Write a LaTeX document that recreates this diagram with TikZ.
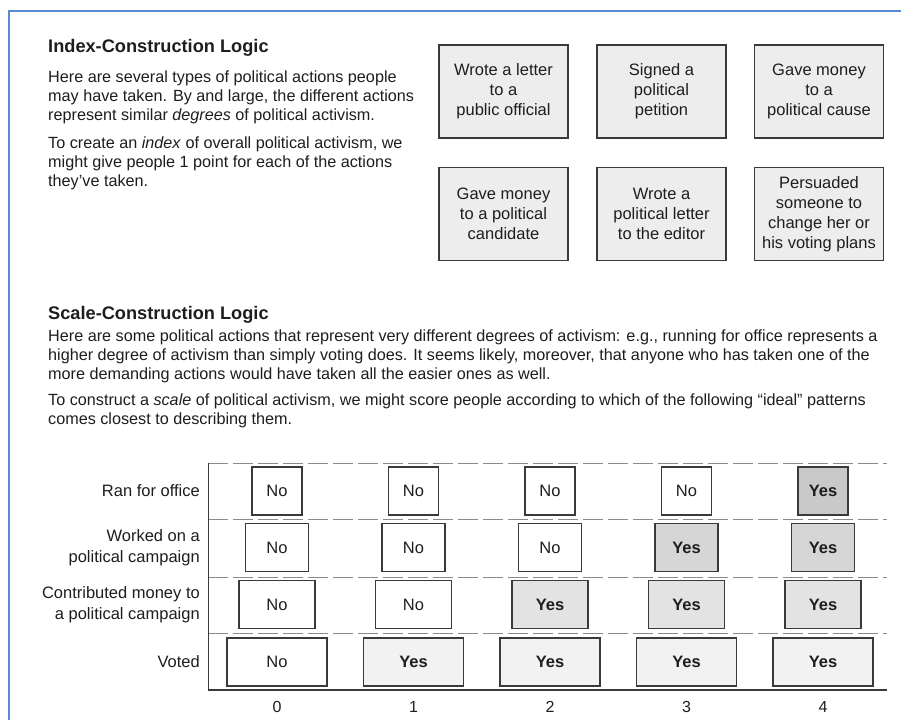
\documentclass[tikz,border=0pt]{standalone}
\usepackage{fontspec}
\setmainfont{Liberation Sans}
\definecolor{ink}{HTML}{1E1E1E}
\definecolor{frameblue}{HTML}{5B8AD4}
\definecolor{boxline}{HTML}{3A3A3A}
\definecolor{cardfill}{HTML}{EDEDED}
\definecolor{yesA}{HTML}{C9C9C9}
\definecolor{yesB}{HTML}{D6D6D6}
\definecolor{yesC}{HTML}{E3E3E3}
\definecolor{yesD}{HTML}{F2F2F2}
\definecolor{rule}{HTML}{8A8A8A}
\begin{document}
\begin{tikzpicture}[x=1pt,y=-1pt,
  heading/.style={anchor=base west, inner sep=0pt, text=ink,
    font=\fontsize{18.2}{21}\selectfont\bfseries},
  bodyline/.style={anchor=base west, inner sep=0pt, text=ink,
    font=\fontsize{16.2}{19}\selectfont},
  card/.style={draw=boxline, line width=1.1pt, fill=cardfill, text=ink,
    minimum width=129pt, minimum height=93pt, align=center, inner sep=2pt,
    font=\fontsize{16.5}{20}\selectfont},
  rowlabel/.style={anchor=east, align=right, inner sep=0pt, text=ink,
    font=\fontsize{16.5}{21}\selectfont},
  cell/.style={draw=boxline, line width=1.1pt, minimum height=48pt,
    inner sep=0pt, text=ink, font=\fontsize{16.5}{19}\selectfont},
  no/.style={cell, fill=white, minimum width=#1},
  yes/.style 2 args={cell, fill=#2, minimum width=#1,
    font=\fontsize{16.5}{19}\selectfont\bfseries},
  score/.style={anchor=base, inner sep=0pt, text=ink,
    font=\fontsize{16}{18}\selectfont},
  dashrule/.style={rule, line width=0.8pt, dash pattern=on 20pt off 5pt},
]
\useasboundingbox (0,0) rectangle (901,720);
\fill[white] (0,0) rectangle (901,720);

% page frame
\draw[frameblue, line width=2pt] (9,720) -- (9,10.5) -- (901,10.5);

% ---------- index section ----------
\node[heading] (ixtitle) at (48,52) {Index-Construction Logic};
\node[bodyline] (ix1) at (48,82)  {Here are several types of political actions people};
\node[bodyline] (ix2) at (48,101) {may have taken. By and large, the different actions};
\node[bodyline] (ix3) at (48,120) {represent similar \textit{degrees} of political activism.};
\node[bodyline] (ix4) at (48,148) {To create an \textit{index} of overall political activism, we};
\node[bodyline] (ix5) at (48,167) {might give people 1 point for each of the actions};
\node[bodyline] (ix6) at (48,186) {they’ve taken.};

\node[card] (act1) at (503.5,91.5) {Wrote a letter\\to a\\public official};
\node[card] (act2) at (661.5,91.5) {Signed a\\political\\petition};
\node[card] (act3) at (819,91.5)   {Gave money\\to a\\political cause};
\node[card] (act4) at (503.5,214)  {Gave money\\to a political\\candidate};
\node[card] (act5) at (661.5,214)  {Wrote a\\political letter\\to the editor};
\node[card] (act6) at (819,214)    {Persuaded\\someone to\\change her or\\his voting plans};

% ---------- scale section ----------
\node[heading] (sctitle) at (48,319) {Scale-Construction Logic};
\node[bodyline] (sc1) at (48,341) {Here are some political actions that represent very different degrees of activism: e.g., running for office represents a};
\node[bodyline] (sc2) at (48,360) {higher degree of activism than simply voting does. It seems likely, moreover, that anyone who has taken one of the};
\node[bodyline] (sc3) at (48,379) {more demanding actions would have taken all the easier ones as well.};
\node[bodyline] (sc4) at (48,405) {To construct a \textit{scale} of political activism, we might score people according to which of the following “ideal” patterns};
\node[bodyline] (sc5) at (48,424) {comes closest to describing them.};

% table rules
\draw[dashrule] (208,463) -- (887,463);
\draw[dashrule] (208,519) -- (887,519);
\draw[dashrule] (208,577) -- (887,577);
\draw[dashrule] (208,633) -- (887,633);
\draw[boxline, line width=1pt] (208,463) -- (208,690);
\draw[boxline, line width=1.5pt] (208,690) -- (887,690);

% row labels
\node[rowlabel] (lab1) at (200,491)   {Ran for office};
\node[rowlabel] (lab2) at (200,547.5) {Worked on a\\political campaign};
\node[rowlabel] (lab3) at (200,604.5) {Contributed money to\\a political campaign};
\node[rowlabel] (lab4) at (200,662)   {Voted};

% pattern 0
\node[no=50pt]  (p0r1) at (277,491)   {No};
\node[no=63pt]  (p0r2) at (277,547.5) {No};
\node[no=76pt]  (p0r3) at (277,604.5) {No};
\node[no=100pt] (p0r4) at (277,662)   {No};
% pattern 1
\node[no=50pt]  (p1r1) at (413.5,491)   {No};
\node[no=63pt]  (p1r2) at (413.5,547.5) {No};
\node[no=76pt]  (p1r3) at (413.5,604.5) {No};
\node[yes={100pt}{yesD}] (p1r4) at (413.5,662) {Yes};
% pattern 2
\node[no=50pt]  (p2r1) at (550,491)   {No};
\node[no=63pt]  (p2r2) at (550,547.5) {No};
\node[yes={76pt}{yesC}]  (p2r3) at (550,604.5) {Yes};
\node[yes={100pt}{yesD}] (p2r4) at (550,662)   {Yes};
% pattern 3
\node[no=50pt]  (p3r1) at (686.5,491)   {No};
\node[yes={63pt}{yesB}]  (p3r2) at (686.5,547.5) {Yes};
\node[yes={76pt}{yesC}]  (p3r3) at (686.5,604.5) {Yes};
\node[yes={100pt}{yesD}] (p3r4) at (686.5,662)   {Yes};
% pattern 4
\node[yes={50pt}{yesA}]  (p4r1) at (823,491)   {Yes};
\node[yes={63pt}{yesB}]  (p4r2) at (823,547.5) {Yes};
\node[yes={76pt}{yesC}]  (p4r3) at (823,604.5) {Yes};
\node[yes={100pt}{yesD}] (p4r4) at (823,662)   {Yes};

% scores
\node[score] (s0) at (277,712)   {0};
\node[score] (s1) at (413.5,712) {1};
\node[score] (s2) at (550,712)   {2};
\node[score] (s3) at (686.5,712) {3};
\node[score] (s4) at (823,712)   {4};
\end{tikzpicture}
\end{document}
